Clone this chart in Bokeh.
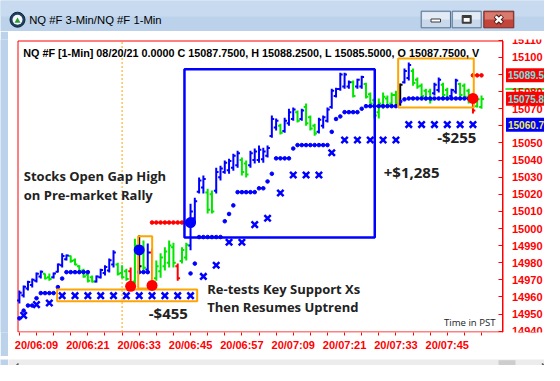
from bokeh.plotting import figure
from bokeh.models import Range1d, FixedTicker, Label, ColumnDataSource, BasicTickFormatter
from bokeh.layouts import column, row
from bokeh.embed import file_html
from bokeh.resources import INLINE
from bokeh.core.properties import value

# ---------------- data (minutes after 06:00, prices) ----------------
bar_minutes = list(range(5, 114))
bar_open = [
    14958.0, 14961.0, 14965.0, 14967.0, 14969.5, 14972.0, 14973.5, 14971.5, 14971.5, 14974.75,
    14978.5, 14982.0, 14984.0, 14981.5, 14978.0, 14975.5, 14973.0, 14971.5, 14969.0, 14971.5,
    14974.0, 14975.5, 14979.0, 14979.0, 14974.0, 14975.0, 14975.0, 14969.0, 14988.0, 14989.0,
    14976.0, 14986.0, 14971.0, 14975.0, 14978.0, 14980.0, 14989.0, 14978.0, 14981.0, 14983.0,
    14990.0, 15006.0, 15021.5, 15024.0, 15021.0, 15020.0, 15022.0, 15030.0, 15033.0, 15034.0,
    15035.5, 15037.0, 15040.0, 15038.0, 15037.0, 15040.0, 15040.0, 15040.5, 15042.5, 15054.0,
    15059.0, 15060.0, 15057.0, 15061.5, 15064.0, 15068.0, 15064.0, 15071.0, 15065.0, 15060.0,
    15056.5, 15060.0, 15063.0, 15071.0, 15077.5, 15081.5, 15083.0, 15083.0, 15085.5, 15083.0,
    15083.0, 15084.5, 15078.5, 15075.0, 15068.0, 15072.0, 15076.0, 15073.0, 15078.0, 15073.0,
    15085.5, 15088.0, 15092.0, 15087.0, 15083.5, 15080.5, 15080.0, 15079.0, 15081.0, 15084.0,
    15081.0, 15077.5, 15080.0, 15084.5, 15083.5, 15080.5, 15077.0, 15071.5, 15071.0]
bar_high = [
    14963.75, 14966.75, 14969.5, 14970.75, 14974.25, 14975.5, 14973.75, 14973.75, 14974.25, 14979.5,
    14985.5, 14984.75, 14984.25, 14982.5, 14978.5, 14976.5, 14974.25, 14972.5, 14972.5, 14976.5,
    14978.5, 14982.5, 14987.25, 14980.0, 14978.5, 14976.5, 14977.25, 14994.0, 14996.0, 14993.0,
    14991.25, 14988.25, 14981.25, 14985.5, 14989.0, 14993.0, 14991.75, 14979.5, 14989.0, 14991.75,
    15014.5, 15018.0, 15029.75, 15031.0, 15023.25, 15022.25, 15035.5, 15036.75, 15039.75, 15040.75,
    15043.75, 15045.5, 15041.5, 15039.75, 15045.5, 15046.75, 15048.5, 15047.25, 15048.5, 15066.0,
    15064.25, 15061.25, 15064.75, 15070.0, 15070.75, 15069.0, 15070.0, 15073.0, 15066.0, 15061.25,
    15064.75, 15066.0, 15070.75, 15081.75, 15082.25, 15091.0, 15091.0, 15086.5, 15086.5, 15087.5,
    15089.25, 15085.25, 15079.5, 15076.0, 15076.0, 15079.5, 15077.75, 15079.5, 15080.5, 15084.75,
    15093.5, 15097.0, 15093.5, 15088.25, 15084.75, 15081.75, 15081.75, 15085.25, 15088.25, 15085.25,
    15082.25, 15081.75, 15087.5, 15085.25, 15084.75, 15081.75, 15078.75, 15076.5, 15077.75]
bar_low = [
    14956.25, 14959.75, 14963.75, 14965.5, 14968.5, 14970.75, 14970.25, 14969.5, 14970.75, 14974.25,
    14977.25, 14981.25, 14980.0, 14978.5, 14974.25, 14971.25, 14968.5, 14968.5, 14968.5, 14970.75,
    14972.5, 14974.25, 14977.25, 14972.5, 14970.75, 14969.5, 14965.5, 14967.75, 14975.5, 14975.5,
    14973.75, 14967.75, 14969.5, 14971.25, 14975.5, 14977.25, 14977.25, 14969.5, 14979.5, 14981.25,
    14987.25, 15003.0, 15020.5, 15020.5, 15008.75, 15008.75, 15020.5, 15028.0, 15032.0, 15032.0,
    15033.75, 15035.5, 15031.0, 15029.75, 15035.5, 15038.0, 15038.5, 15038.5, 15041.5, 15053.0,
    15057.25, 15055.0, 15056.0, 15060.0, 15063.0, 15062.0, 15063.0, 15060.0, 15057.25, 15054.25,
    15055.5, 15058.5, 15062.0, 15070.0, 15076.5, 15080.5, 15081.75, 15081.75, 15076.5, 15081.75,
    15081.75, 15076.0, 15071.75, 15064.25, 15064.25, 15070.0, 15070.75, 15071.75, 15071.75, 15071.75,
    15084.75, 15086.5, 15083.5, 15081.75, 15076.0, 15074.75, 15073.0, 15077.75, 15079.5, 15076.5,
    15074.75, 15076.5, 15078.75, 15076.5, 15076.0, 15073.0, 15067.25, 15070.75, 15070.0]
bar_close = [
    14962.5, 14966.0, 14968.75, 14970.0, 14973.5, 14974.75, 14971.0, 14970.5, 14973.75, 14979.0,
    14984.0, 14984.25, 14981.0, 14979.0, 14975.0, 14972.0, 14969.5, 14969.0, 14972.0, 14975.75,
    14977.5, 14981.5, 14986.0, 14973.5, 14971.5, 14970.5, 14967.0, 14990.0, 14978.0, 14977.0,
    14986.0, 14969.0, 14978.0, 14983.0, 14986.5, 14990.0, 14980.0, 14971.0, 14987.5, 14990.5,
    15010.0, 15016.0, 15028.0, 15029.0, 15011.0, 15010.0, 15033.0, 15035.0, 15038.5, 15039.5,
    15042.5, 15044.0, 15033.0, 15031.5, 15044.0, 15045.0, 15046.0, 15045.0, 15047.0, 15064.0,
    15063.0, 15056.0, 15063.0, 15068.0, 15069.5, 15063.0, 15069.0, 15061.5, 15058.5, 15055.5,
    15063.5, 15065.0, 15069.5, 15080.5, 15081.5, 15090.0, 15090.0, 15085.5, 15077.5, 15087.0,
    15088.5, 15077.0, 15073.0, 15066.0, 15073.0, 15077.0, 15072.0, 15078.0, 15073.0, 15084.0,
    15092.0, 15095.5, 15085.0, 15083.0, 15077.5, 15076.0, 15075.0, 15084.0, 15087.0, 15078.0,
    15076.0, 15081.0, 15086.5, 15078.0, 15077.0, 15074.5, 15069.0, 15075.5, 15075.75]
bar_color = list("BBBBBBGGBB" "BBGGGGGGBB" "BBBGGGRGKG" "BRGGGGGRGG" "BBBBGGBBBB"
                 "BBGGBBBBBB" "BGBBBGBGGG" "BBBBBBBBGB" "BGGGGGGGGK" "BBGGGGGBBG" "GBBGGGRGG")

stop_minutes = [5, 6, 7, 8, 9, 10, 11, 12, 13, 14, 15, 16, 17, 18, 19, 20, 21, 33, 34, 35,
                45, 46, 47, 48, 49, 50, 51, 52, 53, 54, 55, 56, 57, 58, 59, 60, 61, 62, 63, 64,
                65, 66, 67, 68, 69, 70, 71, 72, 73, 74, 75, 76, 77, 78, 79, 80, 81, 82, 83, 84,
                85, 86, 87, 88, 89, 90, 91, 92, 93, 94, 95, 96, 97, 98, 99, 100, 101, 102, 103, 104,
                105, 106, 107, 108, 109, 110]
stop_prices = [14947.5, 14952.0, 14955.0, 14955.0, 14959.25, 14962.25, 14962.25, 14962.25, 14962.25, 14965.75,
               14970.75, 14974.5, 14974.5, 14974.5, 14974.5, 14974.5, 14974.5, 14974.5, 14974.5, 14974.5,
               14973.75, 14979.5, 14995.0, 14995.0, 14995.0, 14995.0, 14995.0, 14995.0, 15004.25, 15008.5,
               15013.5, 15021.25, 15021.25, 15021.25, 15021.25, 15021.25, 15023.5, 15023.5, 15027.5, 15032.0,
               15041.0, 15041.0, 15041.0, 15041.0, 15046.75, 15048.75, 15048.75, 15048.75, 15048.75, 15048.75,
               15048.75, 15048.75, 15048.75, 15056.5, 15064.0, 15065.5, 15068.0, 15068.0, 15068.0, 15068.0,
               15070.0, 15071.5, 15071.5, 15071.5, 15071.5, 15071.5, 15071.5, 15071.5, 15071.5, 15074.25,
               15075.5, 15076.0, 15076.0, 15076.0, 15076.0, 15076.0, 15076.0, 15076.0, 15076.0, 15076.0,
               15076.0, 15076.0, 15076.0, 15076.0, 15076.0, 15076.0]

xmark_minutes = [6, 9, 12, 15, 18, 21, 24, 27, 30, 33, 36, 39, 42, 45, 48, 51, 54, 57,
                 60, 63, 66, 69, 72, 75, 78, 81, 84, 87, 90, 93, 96, 99, 102, 105, 108, 111]
xmark_prices = [14949.25, 14955.5, 14956.5, 14960.75, 14960.75, 14960.75, 14960.75, 14960.75, 14960.75,
                14960.75, 14960.75, 14960.75, 14960.75, 14960.75, 14972.0, 14978.5, 14992.0, 14992.0,
                15002.25, 15006.0, 15020.75, 15031.25, 15031.25, 15031.25, 15044.25, 15051.75, 15051.75,
                15051.75, 15051.75, 15051.75, 15060.75, 15060.75, 15060.75, 15060.75, 15060.75, 15060.75]

redstop_minutes = [36, 37, 38, 39, 40, 41, 42, 43, 44, 111, 112, 113]
redstop_prices = [15003.5, 15003.5, 15003.5, 15003.5, 15003.5, 15003.5, 15003.5, 15003.5, 15003.5,
                  15089.5, 15089.5, 15089.5]

entry_minutes = [33, 45]
entry_prices = [14987.5, 15003.5]
exit_minutes = [31, 36, 111]
exit_prices = [14966.25, 14966.75, 15076.0]

# boxes: (left minute, right minute, bottom price, top price)
blue_boxes = [(43.58, 88.05, 14994.75, 15093.1)]
orange_boxes = [(32.76, 36.03, 14964.94, 14995.5),
                (13.83, 46.55, 14957.5, 14964.35),
                (93.52, 111.19, 15070.72, 15099.35)]
chart_box = (4.677, 118.02, 14939.52, 15109.58)

x_tick_minutes = [9, 21, 33, 45, 57, 69, 81, 93, 105]
x_tick_labels = ["20/06:09", "20/06:21", "20/06:33", "20/06:45", "20/06:57",
                 "20/07:09", "20/07:21", "20/07:33", "20/07:45"]
x_minor_minutes = [5, 13, 17, 25, 29, 37, 41, 49, 53, 61, 65, 73, 77, 85, 89, 97, 101, 109, 113]
y_tick_values = [14940, 14950, 14960, 14970, 14980, 14990, 15000, 15010, 15020, 15030,
                 15040, 15050, 15060, 15070, 15080, 15090, 15100, 15110]
session_open_minute = 29

badge_prices = [15089.5, 15075.8, 15060.7]
badge_texts = ["15089.5", "15075.8", "15060.7"]
badge_fill = ["#ff0000", "#ff0000", "#0000ff"]
badge_text_color = ["#66e6e6", "#66e6e6", "#f0f040"]
last_line_price = 15081.6

info_text = "NQ #F [1-Min] 08/20/21  0.0000 C 15087.7500, H 15088.2500, L 15085.5000, O 15087.7500, V"
window_title = "NQ #F 3-Min/NQ #F 1-Min"

COL = {"B": "#0000ff", "G": "#00e600", "R": "#ff0000", "K": "#000000"}
FRAME_BLUE = "#bcd2ea"

# ---------------- title bar (window chrome) ----------------
top = figure(width=544, height=31, x_range=Range1d(0, 544), y_range=Range1d(0, 31),
             toolbar_location=None, output_backend="svg", min_border=0,
             x_axis_type=None, y_axis_type=None)
top.outline_line_color = None
top.background_fill_color = FRAME_BLUE
top.border_fill_color = FRAME_BLUE
top.grid.visible = False
top.quad(left=[0], right=[544], bottom=[15], top=[31], fill_color="#c7daef", line_color=None)
top.scatter(x=[17], y=[11.8], size=15, marker="circle", fill_color="#1f3f60", line_color="#10243a")
top.scatter(x=[17], y=[11.8], size=10, marker="circle", fill_color="#f4f8fc", line_color=None)
top.scatter(x=[17], y=[10.6], size=6, marker="triangle", fill_color="#2f9a2f", line_color=None)
top.text(x=[28.7], y=[11.3], text=[window_title], text_font=value("Liberation Sans"),
         text_font_size="11.3px", text_color="#000000", text_baseline="middle", text_align="left")
for l, r in [(420.7, 450.0), (451.7, 480.7)]:
    top.quad(left=[l], right=[r], bottom=[3.7], top=[20.3], fill_color="#c9d8ea", line_color="#56708f")
    top.quad(left=[l + 1], right=[r - 1], bottom=[12], top=[19.3], fill_color="#e2ebf6", line_color=None)
top.quad(left=[483.3], right=[513.3], bottom=[3.7], top=[20.3], fill_color="#c2443a", line_color="#6e2a24")
top.quad(left=[484.3], right=[512.3], bottom=[12], top=[19.3], fill_color="#d87a6e", line_color=None)
top.quad(left=[430.5], right=[440], bottom=[9.5], top=[12.5], fill_color="#ffffff", line_color="#3b3b3b")
top.quad(left=[461.7], right=[470.7], bottom=[8.3], top=[16], fill_color="#3b3b3b", line_color="#3b3b3b")
top.quad(left=[463.2], right=[469.2], bottom=[9.8], top=[13.5], fill_color="#ffffff", line_color=None)
top.scatter(x=[498.3], y=[12], marker="x", size=10, line_color="#4a1a14", line_width=4.5)
top.scatter(x=[498.3], y=[12], marker="x", size=9, line_color="#ffffff", line_width=2.5)

# ---------------- main chart ----------------
p = figure(frame_width=528, frame_height=293,
           x_range=Range1d(4.326, 127.72), y_range=Range1d(14939.23, 15110.46),
           y_axis_location="right", toolbar_location=None, output_backend="svg",
           min_border_left=8, min_border_right=0, min_border_top=8, min_border_bottom=24,
           background_fill_color="white", border_fill_color="white")
p.outline_line_color = None
p.grid.visible = False

xa = p.xaxis[0]
xa.ticker = FixedTicker(ticks=x_tick_minutes, minor_ticks=x_minor_minutes)
xa.major_label_overrides = {m: t for m, t in zip(x_tick_minutes, x_tick_labels)}
xa.axis_line_color = None
xa.major_tick_line_color = "#ff0000"
xa.minor_tick_line_color = "#ff0000"
xa.major_tick_in = 0
xa.major_tick_out = 3
xa.minor_tick_in = 0
xa.minor_tick_out = 3
xa.major_label_standoff = 3
xa.major_label_text_color = "#ff0000"
xa.major_label_text_font = "Liberation Sans"
xa.major_label_text_font_style = "bold"
xa.major_label_text_font_size = "11px"

ya = p.yaxis[0]
ya.fixed_location = chart_box[1]
ya.ticker = FixedTicker(ticks=y_tick_values)
ya.formatter = BasicTickFormatter(use_scientific=False)
ya.axis_line_color = "#ff0000"
ya.major_tick_line_color = "#ff0000"
ya.minor_tick_line_color = None
ya.major_tick_in = 4
ya.major_tick_out = 0
ya.major_label_standoff = 9
ya.major_label_text_color = "#ff0000"
ya.major_label_text_font = "Liberation Sans"
ya.major_label_text_font_style = "bold"
ya.major_label_text_font_size = "11px"

# chart border
p.quad(left=[chart_box[0]], right=[chart_box[1]], bottom=[chart_box[2]], top=[chart_box[3]],
       fill_color=None, line_color="#ff0000", line_width=1)
p.segment(x0=[session_open_minute], x1=[session_open_minute], y0=[chart_box[2]], y1=[chart_box[3]],
          line_color="#ffa500", line_dash="2 2", line_width=1)

# OHLC bars
src = ColumnDataSource(dict(
    x=bar_minutes, o=bar_open, h=bar_high, l=bar_low, c=bar_close,
    xl=[m - 0.55 for m in bar_minutes], xr=[m + 0.55 for m in bar_minutes],
    col=[COL[k] for k in bar_color]))
p.segment(x0="x", y0="l", x1="x", y1="h", line_color="col", line_width=2, source=src)
p.segment(x0="xl", y0="o", x1="x", y1="o", line_color="col", line_width=2, source=src)
p.segment(x0="x", y0="c", x1="xr", y1="c", line_color="col", line_width=2, source=src)

# trailing stop dots (blue) and stop entry dots (red)
def dotted(ms, ps, color):
    x0, x1, y0 = [], [], []
    for i in range(len(ms) - 1):
        if ms[i + 1] == ms[i] + 1 and ps[i + 1] == ps[i]:
            x0.append(ms[i]); x1.append(ms[i + 1]); y0.append(ps[i])
    p.segment(x0=x0, y0=y0, x1=x1, y1=y0, line_color=color, line_width=1.3)
    p.scatter(x=ms, y=ps, marker="circle", size=3.6, fill_color=color, line_color=color)

dotted(stop_minutes, stop_prices, "#0000ff")
dotted(redstop_minutes, redstop_prices, "#ff0000")

p.scatter(x=xmark_minutes, y=xmark_prices, marker="x", size=9, line_color="#0000ff", line_width=2.5)

for l, r, b, t in blue_boxes:
    p.quad(left=[l], right=[r], bottom=[b], top=[t], fill_color=None, line_color="#0000ff", line_width=2.5)
for l, r, b, t in orange_boxes:
    p.quad(left=[l], right=[r], bottom=[b], top=[t], fill_color=None, line_color="#ffa500", line_width=2)

p.scatter(x=entry_minutes, y=entry_prices, marker="circle", size=11, fill_color="#0000ff", line_color=None)
p.scatter(x=exit_minutes, y=exit_prices, marker="circle", size=11, fill_color="#ff0000", line_color=None)

# texts
note_font = value("Open Sans")
p.text(x=[6.03, 6.03], y=[15030.98, 15019.70], text=["Stocks Open Gap High", "on Pre-market Rally"],
       text_font=note_font, text_font_style="bold", text_font_size="13px", text_color="#222222",
       text_baseline="middle", text_align="left")
p.text(x=[48.89, 48.89], y=[14964.77, 14954.01], text=["Re-tests Key Support Xs", "Then Resumes Uptrend"],
       text_font=note_font, text_font_style="bold", text_font_size="13px", text_color="#222222",
       text_baseline="middle", text_align="left")
p.text(x=[90.16, 102.64, 35.24], y=[15032.91, 15053.36, 14950.74], text=["+$1,285", "-$255", "-$455"],
       text_font=note_font, text_font_style="bold", text_font_size="15px", text_color="#222222",
       text_baseline="middle", text_align="left")
p.text(x=[116.27], y=[14945.25], text=["Time in PST"], text_font=note_font, text_font_size="9.6px",
       text_color="#222222", text_baseline="middle", text_align="right")
p.text(x=[5.89], y=[15102.45], text=[info_text], text_font=value("Liberation Sans"), text_font_style="bold",
       text_font_size="10.8px", text_color="#000000", text_baseline="middle", text_align="left")

# price badges on the price scale
p.segment(x0=[118.6], x1=[127.72], y0=[last_line_price], y1=[last_line_price],
          line_color="#00e600", line_width=1.5)
for yv, txt, fc, tc in zip(badge_prices, badge_texts, badge_fill, badge_text_color):
    p.add_layout(Label(x=118.72, y=yv, x_units="data", y_units="data", text=txt,
                       text_font="Liberation Sans", text_font_style="bold", text_font_size="10px",
                       text_color=tc, text_baseline="middle", text_align="left",
                       background_fill_color=fc, padding=(2, 3)))

# ---------------- side strip + scrollbar ----------------
def strip(h):
    s = figure(width=8, height=h, toolbar_location=None, output_backend="svg", min_border=0,
               x_axis_type=None, y_axis_type=None)
    s.outline_line_color = None
    s.background_fill_color = FRAME_BLUE
    s.border_fill_color = FRAME_BLUE
    s.grid.visible = False
    return s

bot = figure(width=536, height=9, x_range=Range1d(8, 544), y_range=Range1d(0, 9),
             toolbar_location=None, output_backend="svg", min_border=0,
             x_axis_type=None, y_axis_type=None)
bot.outline_line_color = None
bot.background_fill_color = "#ececec"
bot.border_fill_color = "#ececec"
bot.grid.visible = False
bot.quad(left=[498], right=[515], bottom=[-2], top=[8.3], fill_color="#cdcdcd", line_color=None)
bot.multi_line(xs=[[18, 14.5, 18], [541.5, 545, 541.5]], ys=[[5, 1.5, -2], [5, 1.5, -2]],
               line_color="#606060", line_width=1.6)

layout = column(top, row(strip(325), p), row(strip(9), bot))
open("out.html", "w").write(file_html(layout, INLINE))
